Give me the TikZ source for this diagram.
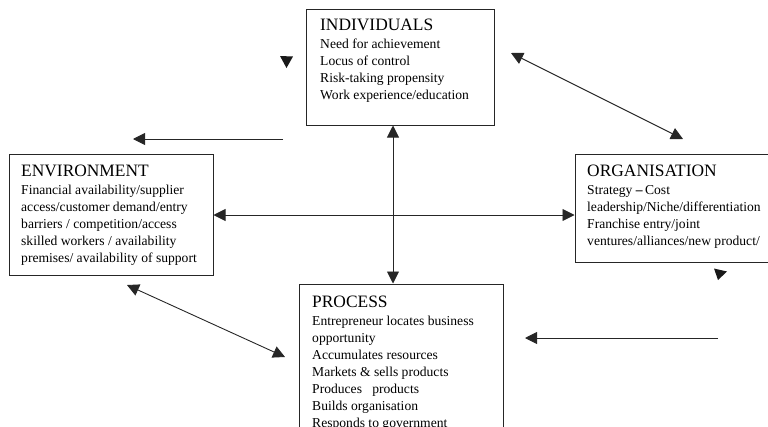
\documentclass[tikz,border=0pt]{standalone}
\usepackage{fontspec}
\setmainfont{Liberation Serif}
\usetikzlibrary{arrows.meta}
\newcommand{\linesblock}[1]{\vtop{\baselineskip=17pt\lineskiplimit=-20pt\def\ln##1{\hbox{##1}}#1}}
\begin{document}
\begin{tikzpicture}[x=1pt,y=-1pt,
  box/.style={draw=black!85, line width=1pt, inner sep=0pt},
  ttl/.style={anchor=base west, inner sep=0pt, font=\fontsize{17.4}{20}\selectfont},
  bdy/.style={anchor=base west, inner sep=0pt, font=\fontsize{13.6}{17}\selectfont},
  con/.style={line width=0.9pt, draw=black!85},
  tip/.style={-{Triangle[length=12pt,width=12pt]}},
  dtip/.style={{Triangle[length=12pt,width=12pt]}-{Triangle[length=12pt,width=12pt]}},
  lone/.style={fill=black!90}]
\clip (0,0) rectangle (768,426);
\useasboundingbox (0,0) rectangle (768,426);
% boxes
\node[box, minimum width=188pt, minimum height=116pt] (ind) at (400,67) {};
\node[box, minimum width=204pt, minimum height=121pt] (env) at (111,214.5) {};
\node[box, minimum width=210pt, minimum height=108pt] (org) at (680,208) {};
\node[box, minimum width=204pt, minimum height=200pt] (proc) at (401,384) {};
% texts
\node[ttl] (indt) at (320,30) {INDIVIDUALS};
\node[bdy] (indb) at (320,48) {\linesblock{\ln{Need for achievement}\ln{Locus of control}\ln{Risk-taking propensity}\ln{Work experience/education}}};
\node[ttl] (envt) at (21,176) {ENVIRONMENT};
\node[bdy] (envb) at (21,194) {\linesblock{\ln{Financial availability/supplier}\ln{access/customer demand/entry}\ln{barriers / competition/access}\ln{skilled workers / availability}\ln{premises/ availability of support}}};
\node[ttl] (orgt) at (587,176) {ORGANISATION};
\node[bdy] (orgb) at (587,194) {\linesblock{\ln{Strategy \textbf{--}\,Cost}\ln{leadership/Niche/differentiation}\ln{Franchise entry/joint}\ln{ventures/alliances/new product/}}};
\node[ttl] (proct) at (312,307) {PROCESS};
\node[bdy] (procb) at (312,325) {\linesblock{\ln{Entrepreneur locates business}\ln{opportunity}\ln{Accumulates resources}\ln{Markets \& sells products}\ln{Produces\ \ \ products}\ln{Builds organisation}\ln{Responds to government}}};
% connector helpers
\coordinate (vx) at (393,0);
\coordinate (hy) at (0,215);
\coordinate (d1a) at (511,53);
\coordinate (d1b) at (683,139);
\coordinate (d2a) at (127,285);
\coordinate (d2b) at (285,357);
\coordinate (h1a) at (283,139);
\coordinate (h1b) at (133,139);
\coordinate (h2a) at (718,338);
\coordinate (h2b) at (525,338);
% connectors
\draw[con, dtip] (ind.south -| vx) -- (proc.north -| vx);
\draw[con, dtip] (env.east |- hy) -- (org.west |- hy);
\draw[con, dtip] (d1a) -- (d1b);
\draw[con, dtip] (d2a) -- (d2b);
\draw[con, tip] (h1a) -- (h1b);
\draw[con, tip] (h2a) -- (h2b);
% lone arrowheads
\fill[lone] (280,56) -- (293,56.5) -- (286.5,68) -- cycle;
\fill[lone] (714,268.5) -- (727,271.5) -- (718,280) -- cycle;
\end{tikzpicture}
\end{document}
